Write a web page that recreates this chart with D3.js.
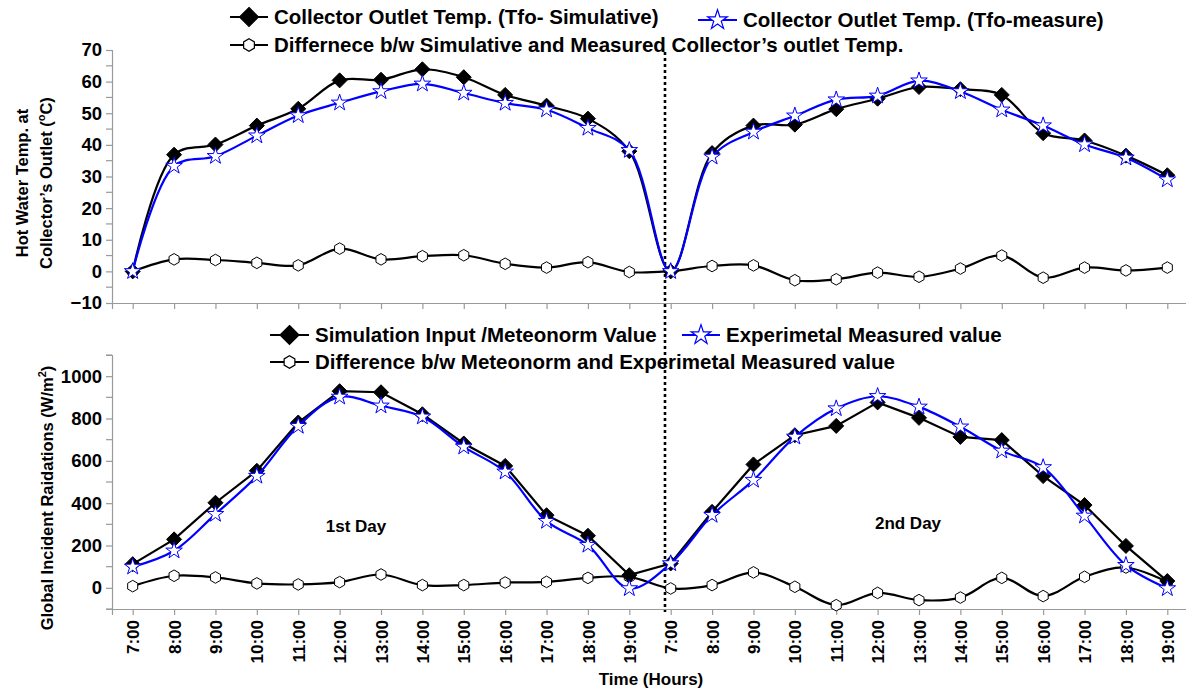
<!DOCTYPE html>
<html>
<head>
<meta charset="utf-8">
<script src="https://cdn.jsdelivr.net/npm/d3@7"></script>
<style>
  body { margin: 0; background: #fff; }
  text { font-family: "Liberation Sans", Arial, sans-serif; font-weight: bold; fill: #000; }
  .axis path, .axis line { stroke: #9a9a9a; stroke-width: 1.2; }
</style>
</head>
<body>
<div class="layout"></div>
<script>
// two days, hourly readings
var times = ["7:00","8:00","9:00","10:00","11:00","12:00","13:00","14:00","15:00","16:00","17:00","18:00","19:00",
             "7:00","8:00","9:00","10:00","11:00","12:00","13:00","14:00","15:00","16:00","17:00","18:00","19:00"];

// collector outlet temperature (deg C)
var tempSim  = [0, 36.9, 40.1, 46.1, 51.4, 60.4, 60.6, 63.9, 61.4, 55.8, 52.4, 48.3, 38.0,
                0, 37.4, 46.1, 46.4, 51.3, 54.6, 58.3, 57.6, 55.8, 43.7, 41.4, 36.6, 30.4];
var tempMeas = [0, 33.3, 36.4, 42.9, 49.3, 53.3, 56.9, 59.3, 56.4, 53.2, 51.1, 45.3, 38.3,
                0, 36.2, 44.1, 49.2, 54.3, 55.5, 60.3, 56.9, 51.1, 46.1, 40.1, 35.9, 29.0];
var tempDiff = [0, 3.8, 3.6, 2.7, 1.9, 7.2, 3.8, 4.8, 5.1, 2.4, 1.2, 2.9, -0.2,
                0.1, 1.7, 1.9, -2.8, -2.5, -0.4, -1.7, 0.9, 5.0, -2.0, 1.2, 0.3, 1.2];

// global incident radiation (W/m2)
var radSim  = [112, 229, 402, 553, 781, 929, 924, 820, 682, 576, 343, 246, 60,
               115, 359, 583, 721, 765, 876, 803, 713, 698, 528, 391, 198, 32];
var radMeas = [99, 175, 348, 528, 764, 902, 860, 808, 666, 548, 315, 202, -3,
               115, 343, 509, 713, 847, 905, 855, 761, 647, 569, 340, 107, -3];
var radDiff = [8, 57, 49, 21, 16, 27, 63, 13, 13, 25, 28, 47, 52,
               -3, 13, 73, 5, -82, -24, -58, -46, 47, -39, 52, 96, 28];

var width = 1186, height = 693;

var svg = d3.select(".layout").append("svg")
        .attr("width", width)
        .attr("height", height);

var x = d3.scalePoint()
        .domain(d3.range(times.length))
        .range([112, 1188])
        .padding(0.5);

var yTop = d3.scaleLinear().domain([-10, 70]).range([303, 50]);
var yBot = d3.scaleLinear().domain([-100, 1100]).range([609, 355]);

// marker shapes
function diamondPath(r) {
    return "M0," + (-r) + "L" + r + ",0L0," + r + "L" + (-r) + ",0Z";
}
function hexPath(r) {
    var p = d3.range(6).map(function(i) {
        var a = Math.PI / 3 * i - Math.PI / 2;
        return [r * Math.cos(a), r * Math.sin(a)];
    });
    return "M" + p.join("L") + "Z";
}
var starPath = d3.symbol().type(d3.symbolStar).size(85)();
var starPathLeg = d3.symbol().type(d3.symbolStar).size(120)();

// axes
function drawYAxis(y, major, minor) {
    var g = svg.append("g").attr("class", "axis")
        .attr("transform", "translate(112,0)");
    g.call(d3.axisLeft(y).tickValues(major).tickSize(6).tickPadding(4).tickFormat(d3.format("d")));
    g.selectAll("text").style("font-size", "18.5px");
    g.append("g").selectAll("line").data(minor).enter().append("line")
        .attr("x1", -6).attr("x2", 0)
        .attr("y1", function(d) { return y(d); })
        .attr("y2", function(d) { return y(d); });
    return g;
}
drawYAxis(yTop, d3.range(-10, 71, 10), d3.range(-5, 70, 10));
drawYAxis(yBot, d3.range(0, 1001, 200), [-100, 100, 300, 500, 700, 900, 1100]);

svg.append("g").attr("class", "axis")
    .attr("transform", "translate(0,303)")
    .call(d3.axisBottom(x).tickSize(6).tickFormat(""));

var xAxisBot = svg.append("g").attr("class", "axis")
    .attr("transform", "translate(0,609)")
    .call(d3.axisBottom(x).tickSize(6).tickFormat(function(i) { return times[i]; }));
xAxisBot.selectAll("text")
    .style("font-size", "17px")
    .style("text-anchor", "end")
    .attr("transform", "rotate(-90)")
    .attr("x", -11)
    .attr("y", 0)
    .attr("dy", "0.36em");

// axis titles
svg.append("text")
    .attr("transform", "translate(28,183) rotate(-90)")
    .style("text-anchor", "middle").style("font-size", "16.5px")
    .text("Hot Water Temp. at");
var t2 = svg.append("text")
    .attr("transform", "translate(52,183) rotate(-90)")
    .style("text-anchor", "middle").style("font-size", "16.5px");
t2.append("tspan").text("Collector\u2019s Outlet (");
t2.append("tspan").attr("dy", -7).style("font-size", "11px").text("o");
t2.append("tspan").attr("dy", 7).text("C)");

var t3 = svg.append("text")
    .attr("transform", "translate(53,498) rotate(-90)")
    .style("text-anchor", "middle").style("font-size", "16.5px");
t3.append("tspan").text("Global Incident Raidations (W/m");
t3.append("tspan").attr("dy", -7).style("font-size", "11px").text("2");
t3.append("tspan").attr("dy", 7).text(")");

svg.append("text")
    .attr("x", 651).attr("y", 685)
    .style("text-anchor", "middle").style("font-size", "17px")
    .text("Time (Hours)");

// day divider
svg.append("line")
    .attr("x1", 665).attr("x2", 665)
    .attr("y1", 52).attr("y2", 612)
    .attr("stroke", "#000")
    .attr("stroke-width", 2.6)
    .attr("stroke-dasharray", "3,3");

// series
var smooth = d3.curveCatmullRom.alpha(0.5);

function drawSeries(values, y, color, curve, marker) {
    var line = d3.line()
        .x(function(d, i) { return x(i); })
        .y(function(d) { return y(d); })
        .curve(curve);
    var g = svg.append("g");
    g.append("path")
        .datum(values)
        .attr("d", line)
        .attr("fill", "none")
        .attr("stroke", color)
        .attr("stroke-width", 2.2);
    g.selectAll("path.mark").data(values).enter().append("path")
        .attr("class", "mark")
        .attr("transform", function(d, i) { return "translate(" + x(i) + "," + y(d) + ")"; })
        .attr("d", marker.d)
        .attr("fill", marker.fill)
        .attr("stroke", marker.stroke)
        .attr("stroke-width", marker.sw);
}

var mDiamond = { d: diamondPath(7.5), fill: "#000", stroke: "#000", sw: 1 };
var mHex = { d: hexPath(5.8), fill: "#fff", stroke: "#000", sw: 1 };
var mStar = { d: starPath, fill: "#fff", stroke: "#0000ff", sw: 1 };

drawSeries(tempDiff, yTop, "#000", smooth, mHex);
drawSeries(tempSim, yTop, "#000", smooth, mDiamond);
drawSeries(tempMeas, yTop, "#0000ff", smooth, mStar);

drawSeries(radDiff, yBot, "#000", smooth, mHex);
drawSeries(radSim, yBot, "#000", d3.curveLinear, mDiamond);
drawSeries(radMeas, yBot, "#0000ff", smooth, mStar);

// day annotations
svg.append("text").attr("x", 356).attr("y", 532)
    .style("text-anchor", "middle").style("font-size", "17px").text("1st Day");
svg.append("text").attr("x", 908).attr("y", 529)
    .style("text-anchor", "middle").style("font-size", "17px").text("2nd Day");

// legends
function legendItem(x0, x1, y, color, markD, fill, text) {
    svg.append("line")
        .attr("x1", x0).attr("x2", x1).attr("y1", y).attr("y2", y)
        .attr("stroke", color).attr("stroke-width", 2.2);
    svg.append("path")
        .attr("transform", "translate(" + ((x0 + x1) / 2) + "," + y + ")")
        .attr("d", markD)
        .attr("fill", fill)
        .attr("stroke", color)
        .attr("stroke-width", 1.2);
    svg.append("text")
        .attr("x", x1 + 6).attr("y", y)
        .attr("dy", "0.36em")
        .style("font-size", "20.5px")
        .text(text);
}

legendItem(230, 268, 17, "#000", diamondPath(9.5), "#000", "Collector Outlet Temp. (Tfo- Simulative)");
legendItem(698, 737, 20, "#0000ff", starPathLeg, "#fff", "Collector Outlet Temp. (Tfo-measure)");
legendItem(230, 268, 45, "#000", hexPath(6.2), "#fff", "Differnece b/w Simulative and Measured Collector\u2019s outlet Temp.");

legendItem(270, 309, 335, "#000", diamondPath(9.5), "#000", "Simulation Input /Meteonorm Value");
legendItem(682, 720, 335, "#0000ff", starPathLeg, "#fff", "Experimetal Measured value");
legendItem(270, 309, 362, "#000", hexPath(6.2), "#fff", "Difference b/w Meteonorm and Experimetal Measured value");
</script>
</body>
</html>
